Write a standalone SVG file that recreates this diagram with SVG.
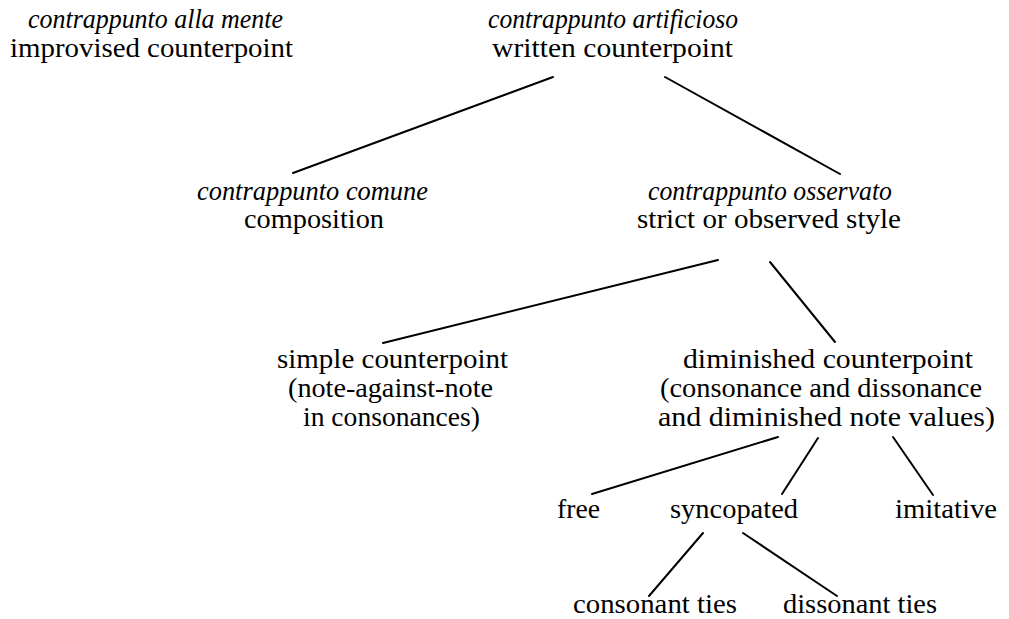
<svg xmlns="http://www.w3.org/2000/svg" width="1009" height="619" viewBox="0 0 1009 619">
<style>
text{font-family:"Liberation Serif","Times New Roman",serif;font-size:27px;fill:#000}
.it{font-style:italic}
.c line{stroke:#000;stroke-width:2;stroke-linecap:round}
</style>
<rect width="1009" height="619" fill="#fff"/>
<g class="c" id="connectors">
<line x1="553" y1="77" x2="293" y2="173"/>
<line x1="665" y1="77" x2="840" y2="174"/>
<line x1="718" y1="260" x2="383" y2="343"/>
<line x1="770" y1="262" x2="835" y2="342"/>
<line x1="778" y1="437" x2="592" y2="494"/>
<line x1="818" y1="438" x2="782" y2="494"/>
<line x1="893" y1="437" x2="933" y2="495"/>
<line x1="703" y1="533" x2="649" y2="596"/>
<line x1="743" y1="533" x2="837" y2="596"/>
</g>
<g id="mente"><text class="it" x="28" y="28" textLength="255" lengthAdjust="spacingAndGlyphs">contrappunto alla mente</text>
<text x="10" y="57" textLength="283" lengthAdjust="spacingAndGlyphs">improvised counterpoint</text></g>
<g id="artificioso"><text class="it" x="488" y="28" textLength="250" lengthAdjust="spacingAndGlyphs">contrappunto artificioso</text>
<text x="492" y="57" textLength="241" lengthAdjust="spacingAndGlyphs">written counterpoint</text></g>
<g id="comune"><text class="it" x="197" y="200" textLength="231" lengthAdjust="spacingAndGlyphs">contrappunto comune</text>
<text x="244" y="228" textLength="140" lengthAdjust="spacingAndGlyphs">composition</text></g>
<g id="osservato"><text class="it" x="648" y="200" textLength="244" lengthAdjust="spacingAndGlyphs">contrappunto osservato</text>
<text x="637" y="228" textLength="264" lengthAdjust="spacingAndGlyphs">strict or observed style</text></g>
<g id="simple"><text x="277" y="368" textLength="231" lengthAdjust="spacingAndGlyphs">simple counterpoint</text>
<text x="288" y="397" textLength="205" lengthAdjust="spacingAndGlyphs">(note-against-note</text>
<text x="303" y="426" textLength="177" lengthAdjust="spacingAndGlyphs">in consonances)</text></g>
<g id="diminished"><text x="683" y="368" textLength="290" lengthAdjust="spacingAndGlyphs">diminished counterpoint</text>
<text x="660" y="397" textLength="322" lengthAdjust="spacingAndGlyphs">(consonance and dissonance</text>
<text x="658" y="426" textLength="337" lengthAdjust="spacingAndGlyphs">and diminished note values)</text></g>
<g id="free"><text x="557" y="518" textLength="43" lengthAdjust="spacingAndGlyphs">free</text></g>
<g id="syncopated"><text x="670" y="518" textLength="128" lengthAdjust="spacingAndGlyphs">syncopated</text></g>
<g id="imitative"><text x="895" y="518" textLength="102" lengthAdjust="spacingAndGlyphs">imitative</text></g>
<g id="consonant"><text x="573" y="613" textLength="164" lengthAdjust="spacingAndGlyphs">consonant ties</text></g>
<g id="dissonant"><text x="783" y="613" textLength="154" lengthAdjust="spacingAndGlyphs">dissonant ties</text></g>
</svg>
